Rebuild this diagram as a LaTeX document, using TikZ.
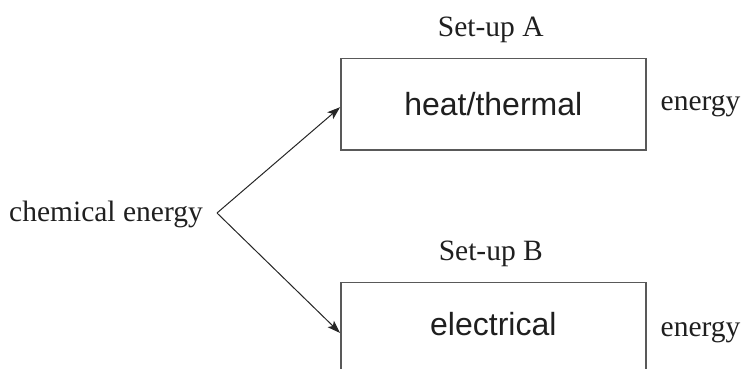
\documentclass[tikz,border=0pt]{standalone}
\usepackage{fontspec}
\setmainfont{Liberation Serif}
\setsansfont{Liberation Sans}
\usetikzlibrary{positioning,arrows.meta}

\begin{document}
\begin{tikzpicture}[x=1pt,y=1pt,
    setup/.style = {draw=black!65, line width=1.4pt, minimum width=305pt, minimum height=91.5pt,
                    text=black!88, font=\sffamily\fontsize{32}{38}\selectfont},
    words/.style = {inner sep=0pt, text=black!88, font=\fontsize{29.5}{34}\selectfont},
    flow/.style  = {-{Stealth[length=13pt,width=9pt,inset=3pt]}, line width=1pt, black!85}]
        \useasboundingbox (0,0) rectangle (742,369);
        \clip (0,0) rectangle (742,369);
        \node[setup] (A) at (493.3,264.8) {heat/thermal};
        \node[setup, text depth=9pt] (B) at (493.3,41) {electrical};
        \node[words] (nameA) [above=15pt of A, xshift=-2.5pt] {Set-up A};
        \node[words] (nameB) [above=15pt of B, xshift=-2.5pt] {Set-up B};
        \node[words] (energyA) [right=14pt of A, yshift=-2.3pt] {energy};
        \node[words] (energyB) [right=14pt of B, yshift=-4.5pt] {energy};
        \node[words, anchor=base west] (chem) at (9,147) {chemical energy};
        \coordinate (fork) at (217,156);
        \draw[flow] (fork) -- ([yshift=-3pt]A.west);
        \draw[flow] (fork) -- ([yshift=-5pt]B.west);
\end{tikzpicture}
\end{document}
